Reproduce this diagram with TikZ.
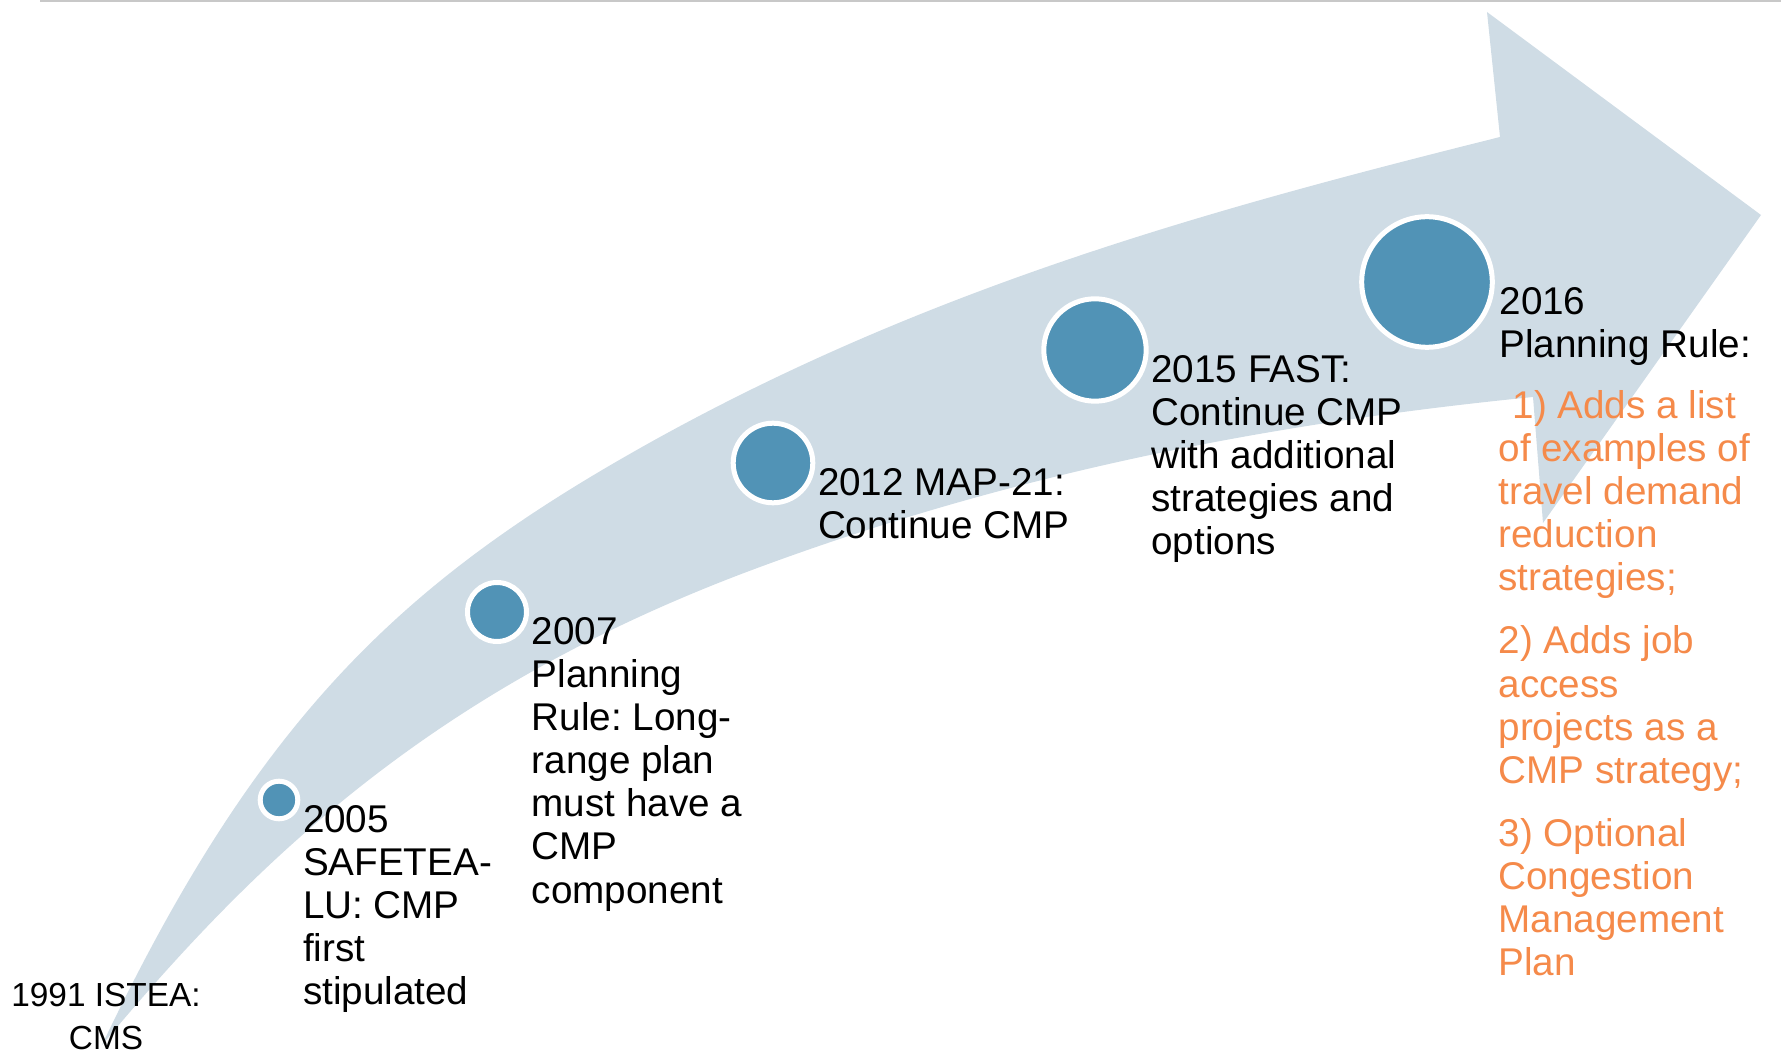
\documentclass[tikz,border=0pt]{standalone}
\usepackage{fontspec}
\setmainfont{Liberation Sans}
\frenchspacing
\usetikzlibrary{positioning}
\definecolor{arrowgray}{HTML}{CFDCE5}
\definecolor{dotblue}{HTML}{5193B6}
\definecolor{noteorange}{HTML}{F58A4A}
\definecolor{rulegray}{HTML}{C8C8C8}

\begin{document}
\begin{tikzpicture}[x=0.1mm, y=-0.1mm]
\tikzset{% one unit is one pixel of the slide
  dot/.style={circle, fill=dotblue, draw=white, line width=0.5mm, inner sep=0pt},
  event/.style={anchor=north west, align=left, inner sep=0pt,
    font=\fontsize{11}{12.25}\selectfont},
  note/.style={event, text=noteorange},
}
\useasboundingbox (0,0) rectangle (1781,1053);

\draw[rulegray, line width=0.25mm] (40,1) -- (1781,1);

\fill[arrowgray] (102,1045) .. controls (262,709) and (410,575) .. (660,437)
  .. controls (940,283) and (1220,207) .. (1500,137)
  -- (1487,12) -- (1761,215) -- (1543,523) -- (1533,397)
  .. controls (1273,423) and (1020,471) .. (760,567)
  .. controls (440,685) and (262,853) .. (102,1045) -- cycle;

\node[dot, minimum size=3.76mm] (Dot2005) at (279,800) {};
\node[dot, minimum size=5.9mm] (Dot2007) at (497,612) {};
\node[dot, minimum size=7.96mm] (Dot2012) at (773,463) {};
\node[dot, minimum size=10.24mm] (Dot2015) at (1095,350) {};
\node[dot, minimum size=13.06mm] (Dot2016) at (1427,282) {};

\node[event, anchor=north, align=center, font=\fontsize{9.5}{12.5}\selectfont]
  (Istea) at (106,982) {1991 ISTEA:\\CMS};
\node[event] (Safetea) at ([shift={(2,5)}]Dot2005.east)
  {2005\\SAFETEA-\\LU: CMP\\first\\stipulated};
\node[event] (Rule2007) at ([shift={(2,5)}]Dot2007.east)
  {2007\\Planning\\Rule: Long-\\range plan\\must have a\\CMP\\component};
\node[event] (Map21) at ([shift={(2,5)}]Dot2012.east)
  {2012 MAP-21:\\Continue CMP};
\node[event] (Fast) at ([shift={(2,5)}]Dot2015.east)
  {2015 FAST:\\Continue CMP\\with additional\\strategies and\\options};
\node[event] (Rule2016) at ([shift={(4,5)}]Dot2016.east)
  {2016\\Planning Rule:};
\node[note] (Changes2016) at ([shift={(-1,103)}]Rule2016.north west)
  {\hspace*{1.4mm}1) Adds a list\\of examples of\\travel demand\\reduction\\strategies;\\[2mm]
   2) Adds job\\access\\projects as a\\CMP strategy;\\[2mm]
   3) Optional\\Congestion\\Management\\Plan};
\end{tikzpicture}
\end{document}
